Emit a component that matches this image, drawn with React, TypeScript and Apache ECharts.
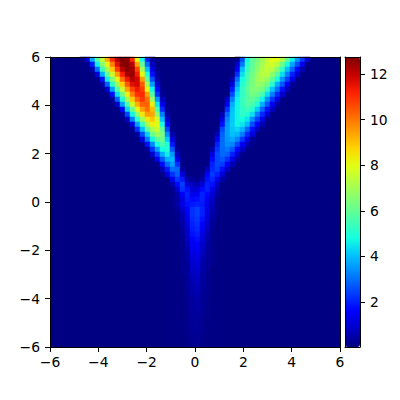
import React, { useEffect, useRef } from "react";
import * as echarts from "echarts";

// Each row: [rowFromTop, firstColumn, ...values]; anything not listed is the background level.
const leftBeamRows: number[][] = [
  [0, 6, 0.1, 1.1, 3.7, 5.8, 7.4, 9.3, 11, 12.2, 12.7, 12.6, 11.1, 7.9, 4.8, 2.0, 0.4],
  [1, 7, 0.2, 1.9, 4.6, 6.5, 8.1, 9.9, 11.6, 12.6, 12.7, 12.1, 9.4, 6, 3, 0.7],
  [2, 8, 0.5, 3, 5.4, 7.1, 8.9, 10.8, 12.1, 12.6, 12.4, 10.7, 7.1, 4, 1.3, 0.2],
  [3, 9, 1.1, 3.8, 5.9, 7.6, 9.5, 11.2, 12.3, 12.5, 11.3, 8.1, 5, 1.8, 0.3],
  [4, 10, 1.8, 4.6, 6.4, 8.2, 10.1, 11.4, 12.2, 11.8, 9.5, 5.9, 2.6, 0.5],
  [5, 10, 0.4, 2.8, 5.1, 7, 8.8, 10.4, 11.6, 11.8, 10.4, 7, 3.6, 0.9],
  [6, 11, 0.9, 3.6, 5.7, 7.5, 9.4, 10.7, 11.4, 10.8, 8.1, 4.7, 1.7],
  [7, 12, 1.7, 4.4, 6.2, 8.2, 9.9, 11, 11.1, 9.4, 5.8, 2.3, 0.3],
  [8, 12, 0.3, 2.8, 5, 7, 8.9, 10.2, 10.9, 10.1, 6.9, 3.5, 0.7],
  [9, 13, 0.8, 3.6, 5.6, 7.6, 9.3, 10.3, 10.3, 8.3, 4.5, 1.3],
  [10, 14, 1.6, 4.3, 6.1, 8.1, 9.5, 10.1, 9.1, 5.6, 2.1, 0.2],
  [11, 14, 0.3, 2.5, 4.7, 6.6, 8.4, 9.5, 9.4, 6.6, 3.2, 0.4],
  [12, 15, 0.7, 3.2, 5.1, 6.9, 8.4, 8.9, 7.7, 4, 0.9],
  [13, 16, 1.1, 3.6, 5.3, 7.1, 8.2, 7.9, 4.9, 1.7],
  [14, 16, 0.2, 2.2, 4, 5.8, 7.1, 7.6, 6, 2.5, 0.2],
  [15, 17, 0.4, 2.5, 4.2, 6.1, 6.9, 6.4, 3.4, 0.5],
  [16, 18, 1.1, 3.1, 4.7, 5.9, 6.2, 4.2, 1.1],
  [17, 19, 1.8, 3.3, 4.8, 5.6, 5, 1.9, 0.1],
  [18, 19, 0.3, 2.2, 3.6, 4.8, 5, 2.7, 0.3],
  [19, 20, 0.8, 2.4, 3.8, 4.6, 3.5, 0.7],
  [20, 21, 1.4, 2.7, 3.8, 3.9, 1.4],
  [21, 21, 0.15, 1.7, 2.9, 3.6, 2.2],
  [22, 22, 0.6, 1.9, 3, 2.9, 0.4],
  [23, 23, 1.1, 2.2, 2.8, 1.1],
];

const rightBeamRows: number[][] = [
  [0, 37, 0.25, 2.5, 4.8, 5.9, 6.4, 6.9, 7.5, 8, 8, 7.2, 6, 4.6, 3.5, 2.3, 1],
  [1, 37, 0.9, 3.1, 5.1, 5.9, 6.5, 7, 7.6, 7.7, 7.3, 6.2, 4.8, 3.7, 2.6, 1.4, 0.1],
  [2, 37, 1.5, 4, 5.3, 6, 6.6, 7.2, 7.5, 7.3, 6.5, 5.3, 4, 2.9, 1.7, 0.5],
  [3, 37, 2.2, 4.4, 5.5, 6.2, 6.8, 7.3, 7.3, 6.7, 5.8, 4.4, 3.2, 2, 0.9],
  [4, 36, 0.5, 3, 4.8, 5.6, 6.3, 6.9, 7.1, 6.8, 6, 4.8, 3.5, 2.4, 1.2],
  [5, 36, 1.1, 3.6, 5, 5.8, 6.3, 6.8, 6.7, 6.2, 5.1, 3.8, 2.7, 1.5, 0.3],
  [6, 36, 1.9, 4.1, 5.2, 5.9, 6.4, 6.5, 6.3, 5.4, 4.1, 3, 1.8, 0.6],
  [7, 36, 2.5, 4.4, 5.2, 5.8, 6.3, 6.1, 5.6, 4.4, 3.2, 2.1, 0.9],
  [8, 35, 0.8, 3.2, 4.6, 5.3, 5.8, 5.9, 5.6, 4.7, 3.4, 2.3, 1.2],
  [9, 35, 1.5, 3.8, 4.7, 5.3, 5.8, 5.6, 5, 3.8, 2.7, 1.5, 0.4],
  [10, 35, 2.2, 4, 4.7, 5.2, 5.4, 5.1, 4.2, 2.9, 1.8, 0.7],
  [11, 34, 0.5, 2.9, 4.1, 4.7, 5.2, 5, 4.4, 3.2, 2.1, 1],
  [12, 34, 1.1, 3.3, 4.1, 4.7, 4.8, 4.5, 3.4, 2.4, 1.3, 0.2],
  [13, 34, 1.8, 3.5, 4.2, 4.7, 4.5, 3.9, 2.6, 1.6, 0.6],
  [14, 33, 0.2, 2.5, 3.6, 4.1, 4.3, 3.9, 2.9, 1.8, 0.7],
  [15, 33, 0.7, 2.8, 3.6, 4, 3.9, 3.2, 2.1, 1.1],
  [16, 33, 1.4, 2.9, 3.5, 3.7, 3.3, 2.3, 1.3, 0.3],
  [17, 33, 2, 3, 3.4, 3.3, 2.5, 1.5, 0.6],
  [18, 32, 0.5, 2.3, 2.9, 3.1, 2.7, 1.7, 0.8],
  [19, 32, 1.1, 2.5, 2.9, 2.8, 2, 1, 0.2],
  [20, 32, 1.7, 2.5, 2.7, 2.2, 1.3, 0.4],
  [21, 31, 0.15, 2, 2.5, 2.4, 1.5, 0.6],
  [22, 31, 0.7, 2.1, 2.4, 1.8, 0.8],
  [23, 30, 0.2, 1.5, 2.3, 2, 1.1, 0.2],
];

const apexRows: number[][] = [
  [24, 24, 1.4, 2.3, 1.9, 0.5, 0.3, 0.2, 0.4, 1.8, 2.1, 1.4, 0.5],
  [25, 24, 0.5, 1.7, 2.4, 1.1, 0.7, 0.6, 1, 2, 1.8, 0.8, 0.1],
  [26, 24, 0.2, 0.9, 2.2, 1.8, 1, 1, 1.7, 2, 1.3, 0.5],
  [27, 24, 0.1, 0.5, 1.5, 2, 1.3, 1.4, 2, 1.7, 1, 0.4],
  [28, 24, 0.2, 0.4, 1.1, 1.9, 1.7, 1.8, 2, 1.5, 0.8, 0.2],
];

const stemRows: number[][] = [
  [29, 24, 0.2, 0.5, 1.2, 1.8, 1.9, 2.0, 1.9, 1.3, 0.7, 0.2],
  [30, 24, 0.1, 0.3, 0.8, 1.6, 2.2, 2.4, 2.0, 1.2, 0.6, 0.2],
  [31, 24, 0.1, 0.2, 0.6, 1.4, 2.2, 2.4, 2.0, 1.1, 0.5, 0.2],
  [32, 24, 0.1, 0.2, 0.5, 1.2, 2.1, 2.3, 1.8, 1.0, 0.4, 0.1],
  [33, 24, 0.1, 0.1, 0.4, 1.1, 2.0, 2.2, 1.6, 0.8, 0.3, 0.1],
  [34, 24, 0.1, 0.1, 0.3, 0.9, 1.9, 2.1, 1.4, 0.7, 0.3, 0.1],
  [35, 24, 0.1, 0.1, 0.3, 0.8, 1.8, 2.0, 1.2, 0.6, 0.2, 0.1],
  [36, 24, 0.1, 0.1, 0.2, 0.7, 1.6, 1.8, 1.1, 0.5, 0.2, 0.1],
  [37, 24, 0.1, 0.1, 0.2, 0.6, 1.4, 1.6, 0.9, 0.4, 0.2, 0.1],
  [38, 24, 0.1, 0.1, 0.2, 0.5, 1.3, 1.5, 0.8, 0.4, 0.2, 0.1],
  [39, 24, 0.1, 0.1, 0.2, 0.4, 1.1, 1.3, 0.7, 0.3, 0.2, 0.1],
  [40, 24, 0.1, 0.1, 0.2, 0.4, 1.0, 1.2, 0.6, 0.3, 0.2, 0.1],
  [41, 24, 0.1, 0.1, 0.2, 0.3, 0.9, 1.1, 0.5, 0.3, 0.2, 0.1],
  [42, 24, 0.1, 0.1, 0.2, 0.3, 0.8, 0.95, 0.5, 0.3, 0.1, 0.1],
  [43, 24, 0.1, 0.1, 0.2, 0.3, 0.7, 0.85, 0.4, 0.2, 0.1, 0.1],
  [44, 24, 0.1, 0.1, 0.1, 0.3, 0.6, 0.75, 0.4, 0.2, 0.1, 0.1],
  [45, 24, 0.1, 0.1, 0.1, 0.3, 0.55, 0.7, 0.4, 0.2, 0.1, 0.1],
  [46, 24, 0.1, 0.1, 0.1, 0.25, 0.5, 0.62, 0.35, 0.2, 0.1, 0.1],
  [47, 24, 0.1, 0.1, 0.1, 0.25, 0.45, 0.55, 0.3, 0.2, 0.1, 0.1],
  [48, 24, 0.1, 0.1, 0.1, 0.2, 0.4, 0.5, 0.3, 0.2, 0.1, 0.1],
  [49, 24, 0.1, 0.1, 0.1, 0.2, 0.38, 0.45, 0.3, 0.15, 0.1, 0.1],
  [50, 24, 0.1, 0.1, 0.1, 0.2, 0.35, 0.42, 0.25, 0.15, 0.1, 0.1],
  [51, 24, 0.1, 0.1, 0.1, 0.2, 0.32, 0.38, 0.25, 0.15, 0.1, 0.1],
  [52, 24, 0.1, 0.1, 0.1, 0.15, 0.3, 0.35, 0.2, 0.15, 0.1, 0.1],
  [53, 24, 0.1, 0.1, 0.1, 0.15, 0.28, 0.32, 0.2, 0.1, 0.1, 0.1],
  [54, 24, 0.1, 0.1, 0.1, 0.15, 0.26, 0.3, 0.2, 0.1, 0.1, 0.1],
  [55, 24, 0.1, 0.1, 0.1, 0.15, 0.24, 0.28, 0.18, 0.1, 0.1, 0.1],
  [56, 24, 0.1, 0.1, 0.1, 0.12, 0.22, 0.26, 0.16, 0.1, 0.1, 0.1],
  [57, 24, 0.1, 0.1, 0.1, 0.12, 0.2, 0.24, 0.15, 0.1, 0.1, 0.1],
];

const gridCells = 58;
const colorbarTicks = [2, 4, 6, 8, 10, 12];
const valueMin = 0.03;
const valueMax = 12.75;
const jetColors = [
  "#00007f", "#0000c8", "#0000ff", "#0040ff", "#0080ff", "#00bfff", "#15ffe1", "#48ffae", "#7bff7b",
  "#afff48", "#e2ff15", "#ffd200", "#ff9700", "#ff5c00", "#ff2200", "#c80000", "#7f0000",
];

const heatData: number[][] = [];
[leftBeamRows, rightBeamRows, apexRows, stemRows].forEach((rows) =>
  rows.forEach(([row, first, ...values]) =>
    values.forEach((v, k) => heatData.push([first + k, row, v]))
  )
);
const cellLabels = Array.from({ length: gridCells }, (_, i) => String(i));

const FONT = "DejaVu Sans";
const minusText = (v: number) => String(v).replace("-", "\u2212");
const line = { show: true, onZero: false, lineStyle: { color: "#000", width: 1 } };
const tick = { show: true, length: 5, lineStyle: { color: "#000", width: 1 } };
const label = { fontFamily: FONT, fontSize: 13.89, color: "#000" };

const frameAxis = (extra: object) => ({
  type: "value",
  axisLine: line,
  axisTick: { show: false },
  axisLabel: { show: false },
  splitLine: { show: false },
  z: 10,
  ...extra,
});
const numberAxis = (margin: number, extra: object) => ({
  type: "value",
  min: -6,
  max: 6,
  interval: 2,
  axisLine: line,
  axisTick: tick,
  axisLabel: { ...label, margin, formatter: minusText, showMinLabel: true, showMaxLabel: true },
  splitLine: { show: false },
  z: 10,
  ...extra,
});

export default function App() {
  const ref = useRef<HTMLDivElement>(null);
  useEffect(() => {
    const chart = echarts.init(ref.current!, undefined, { renderer: "svg" });
    chart.setOption({
      animation: false,
      backgroundColor: "#fff",
      grid: [
        { left: 50, top: 57, width: 290, height: 290, show: true, backgroundColor: "#000082", borderWidth: 0 },
        { left: 345, top: 57, width: 15, height: 290, show: false },
      ],
      xAxis: [
        { type: "category", gridIndex: 0, show: false, data: cellLabels },
        numberAxis(8, { gridIndex: 0, position: "bottom" }),
        frameAxis({ gridIndex: 0, position: "top", min: -6, max: 6 }),
        frameAxis({ gridIndex: 1, position: "bottom", min: 0, max: 1 }),
        frameAxis({ gridIndex: 1, position: "top", min: 0, max: 1 }),
      ],
      yAxis: [
        { type: "category", gridIndex: 0, show: false, inverse: true, data: cellLabels },
        numberAxis(10, { gridIndex: 0, position: "left" }),
        frameAxis({ gridIndex: 0, position: "right", min: -6, max: 6 }),
        frameAxis({ gridIndex: 1, position: "left", min: valueMin, max: valueMax }),
        {
          type: "value",
          gridIndex: 1,
          position: "right",
          min: valueMin,
          max: valueMax,
          axisLine: line,
          axisTick: { ...tick, customValues: colorbarTicks },
          axisLabel: { ...label, margin: 10, customValues: colorbarTicks, showMinLabel: true, showMaxLabel: true },
          splitLine: { show: false },
          z: 10,
        },
      ],
      visualMap: {
        type: "continuous",
        seriesIndex: 0,
        dimension: 2,
        min: valueMin,
        max: valueMax,
        left: 345,
        top: 57,
        itemWidth: 15,
        itemHeight: 290,
        padding: 0,
        calculable: false,
        realtime: false,
        hoverLink: false,
        text: null,
        inRange: { color: jetColors },
      },
      series: [
        {
          type: "heatmap",
          xAxisIndex: 0,
          yAxisIndex: 0,
          data: heatData,
          silent: true,
          itemStyle: { borderWidth: 0 },
        },
      ],
    });
    return () => chart.dispose();
  }, []);
  return <div ref={ref} style={{ position: "fixed", left: 0, top: 0, width: 400, height: 400 }} />;
}
